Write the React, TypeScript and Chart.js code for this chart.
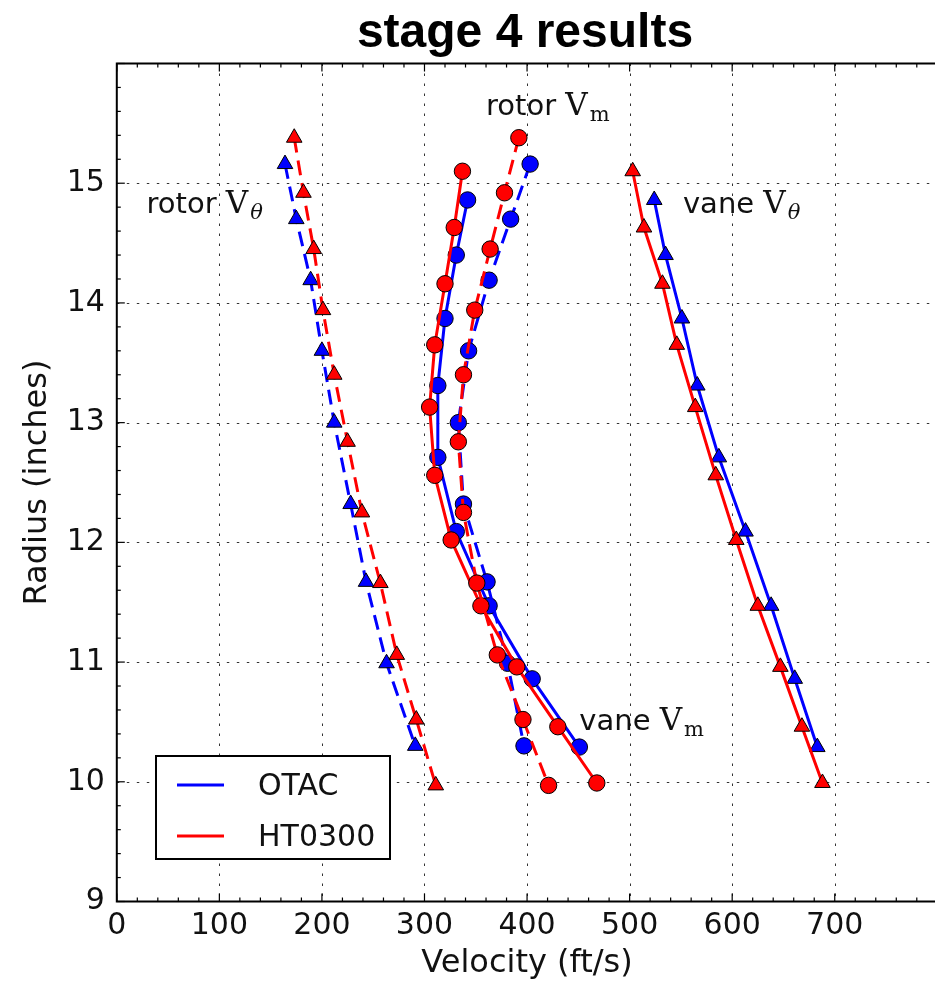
import React, { useEffect, useRef } from 'react';
import { Chart, registerables } from 'chart.js';
Chart.register(...registerables);

// OTAC rotor stations
const otacRotorRadius = [15.16, 14.7, 14.19, 13.6, 13.0, 12.32, 11.67, 10.99, 10.3];
const otacRotorVtheta = [164, 175, 189, 200, 212, 228, 243, 263, 291];
const otacRotorVm = [403, 384, 363, 343, 333, 338, 361, 381, 397];
// HT0300 rotor stations
const htRotorRadius = [15.38, 14.92, 14.45, 13.94, 13.4, 12.84, 12.25, 11.66, 11.06, 10.52, 9.97];
const htRotorVtheta = [173, 182, 192, 201, 212, 225, 239, 257, 273, 292, 311];
const htRotorVm = [392, 378, 364, 349, 338, 333, 338, 351, 371, 396, 421];
// OTAC vane stations
const otacVaneRadius = [14.86, 14.4, 13.87, 13.31, 12.71, 12.09, 11.47, 10.86, 10.29];
const otacVaneVtheta = [524, 535, 551, 566, 587, 613, 638, 661, 683];
const otacVaneVm = [342, 331, 320, 313, 313, 331, 363, 405, 451];
// HT0300 vane stations
const htVaneRadius = [15.1, 14.63, 14.16, 13.65, 13.13, 12.56, 12.02, 11.47, 10.96, 10.46, 9.99];
const htVaneVtheta = [503, 514, 532, 546, 564, 584, 604, 625, 647, 668, 688];
const htVaneVm = [337, 329, 320, 310, 305, 310, 326, 355, 390, 430, 468];

const seriesNames = ['OTAC', 'HT0300'];
const titleText = 'stage 4 results';
const xTitle = 'Velocity (ft/s)';
const yTitle = 'Radius (inches)';
const xTicks = [0, 100, 200, 300, 400, 500, 600, 700];
const yTicks = [9, 10, 11, 12, 13, 14, 15];
const X_MAX = 788; // axes run to 800; the picture is cut short of that
const Y_MIN = 9;
const Y_MAX = 16;

const BLUE = '#0000ff';
const RED = '#ff0000';

const pts = (xs: number[], ys: number[]) => xs.map((x, i) => ({ x, y: ys[i] }));

function makeSet(label: string, xs: number[], ys: number[], color: string, dashed: boolean, style: string, order: number) {
  return {
    label,
    data: pts(xs, ys),
    showLine: true,
    borderColor: color,
    backgroundColor: color,
    borderWidth: 3,
    borderDash: dashed ? [15, 8] : [],
    pointStyle: style,
    pointRadius: style === 'triangle' ? 9 : 8.2,
    pointBorderColor: '#000',
    pointBorderWidth: 1,
    pointBackgroundColor: color,
    order,
    tension: 0,
  };
}

const FONT = '"DejaVu Sans", sans-serif';

const decor = {
  id: 'decor',
  beforeDatasetsDraw(chart: any) {
    const { ctx, chartArea: a, scales } = chart;
    const xs = scales.x, ys = scales.y;
    const W = chart.width;
    ctx.save();
    ctx.strokeStyle = '#333';
    ctx.lineWidth = 1;
    ctx.setLineDash([2.5, 7.5]);
    for (let v = 100; v <= 700; v += 100) {
      const px = Math.round(xs.getPixelForValue(v)) + 0.5;
      ctx.beginPath(); ctx.moveTo(px, a.top); ctx.lineTo(px, a.bottom); ctx.stroke();
    }
    for (let v = 10; v <= 15; v += 1) {
      const py = Math.round(ys.getPixelForValue(v)) + 0.5;
      ctx.beginPath(); ctx.moveTo(a.left, py); ctx.lineTo(W, py); ctx.stroke();
    }
    ctx.restore();
  },
  afterDraw(chart: any) {
    const { ctx, chartArea: a, scales } = chart;
    const xs = scales.x, ys = scales.y;
    const W = chart.width;
    ctx.save();
    // spines (the right one lies outside the picture)
    ctx.strokeStyle = '#000';
    ctx.lineWidth = 2;
    ctx.setLineDash([]);
    ctx.beginPath();
    ctx.moveTo(W, a.top); ctx.lineTo(a.left, a.top); ctx.lineTo(a.left, a.bottom); ctx.lineTo(W, a.bottom);
    ctx.stroke();
    // ticks (inward)
    ctx.lineWidth = 1.2;
    for (let v = 0; v <= 800; v += 20) {
      const px = xs.getPixelForValue(v);
      if (px > W) break;
      const len = v % 100 === 0 ? 8 : 4;
      ctx.beginPath();
      ctx.moveTo(px, a.bottom); ctx.lineTo(px, a.bottom - len);
      ctx.moveTo(px, a.top); ctx.lineTo(px, a.top + len);
      ctx.stroke();
    }
    for (let i = 0; i <= 35; i++) {
      const v = Y_MIN + i * 0.2;
      const py = ys.getPixelForValue(v);
      const len = i % 5 === 0 ? 8 : 4;
      ctx.beginPath();
      ctx.moveTo(a.left, py); ctx.lineTo(a.left + len, py);
      ctx.stroke();
    }
    // title
    ctx.fillStyle = '#000';
    ctx.font = 'bold 48px "Liberation Sans", Arial, sans-serif';
    ctx.textAlign = 'center';
    ctx.textBaseline = 'alphabetic';
    ctx.fillText(titleText, 525, 46.5);

    // x axis title, centred on the full 0-800 axis
    ctx.fillStyle = '#111';
    ctx.font = '32px ' + FONT;
    ctx.fillText(xTitle, xs.getPixelForValue(400), 972);

    // annotations
    const label = (pre: string, sub: string, subItalic: boolean, vx: number, vy: number) => {
      let x = xs.getPixelForValue(vx);
      const y = ys.getPixelForValue(vy);
      ctx.textAlign = 'left';
      ctx.fillStyle = '#111';
      ctx.font = '29px ' + FONT;
      ctx.fillText(pre, x, y);
      x += ctx.measureText(pre).width;
      ctx.font = '31px "DejaVu Serif", serif';
      ctx.fillText('V', x, y);
      x += ctx.measureText('V').width + 2;
      ctx.font = (subItalic ? 'italic ' : '') + '21px "DejaVu Serif", serif';
      ctx.fillText(sub, x, y + 6);
    };
    label('rotor ', 'θ', true, 29, 14.75);
    label('rotor ', 'm', false, 360, 15.57);
    label('vane ', 'θ', true, 552, 14.75);
    label('vane ', 'm', false, 451, 10.43);

    // legend
    ctx.fillStyle = '#fff';
    ctx.fillRect(156, 756, 234, 103);
    ctx.strokeStyle = '#000';
    ctx.lineWidth = 2;
    ctx.strokeRect(156, 756, 234, 103);
    ctx.lineWidth = 3;
    ctx.strokeStyle = BLUE;
    ctx.beginPath(); ctx.moveTo(177, 785); ctx.lineTo(224, 785); ctx.stroke();
    ctx.strokeStyle = RED;
    ctx.beginPath(); ctx.moveTo(177, 836); ctx.lineTo(224, 836); ctx.stroke();
    ctx.fillStyle = '#111';
    ctx.font = '30px ' + FONT;
    ctx.textAlign = 'left';
    ctx.fillText(seriesNames[0], 258, 795);
    ctx.fillText(seriesNames[1], 258, 846);
    ctx.restore();
  },
};

export default function App() {
  const ref = useRef<HTMLCanvasElement | null>(null);
  useEffect(() => {
    if (!ref.current) return;
    const chart = new Chart(ref.current, {
      type: 'scatter',
      data: {
        datasets: [
          makeSet('HT0300 rotor Vtheta', htRotorVtheta, htRotorRadius, RED, true, 'triangle', 0),
          makeSet('HT0300 rotor Vm', htRotorVm, htRotorRadius, RED, true, 'circle', 0),
          makeSet('HT0300 vane Vtheta', htVaneVtheta, htVaneRadius, RED, false, 'triangle', 0),
          makeSet('HT0300 vane Vm', htVaneVm, htVaneRadius, RED, false, 'circle', 0),
          makeSet('OTAC rotor Vtheta', otacRotorVtheta, otacRotorRadius, BLUE, true, 'triangle', 1),
          makeSet('OTAC rotor Vm', otacRotorVm, otacRotorRadius, BLUE, true, 'circle', 1),
          makeSet('OTAC vane Vtheta', otacVaneVtheta, otacVaneRadius, BLUE, false, 'triangle', 1),
          makeSet('OTAC vane Vm', otacVaneVm, otacVaneRadius, BLUE, false, 'circle', 1),
        ] as any,
      },
      options: {
        responsive: false,
        animation: false,
        layout: { padding: { top: 63.5, right: 0, left: 0, bottom: 0 } },
        plugins: { legend: { display: false }, title: { display: false }, tooltip: { enabled: false } },
        scales: {
          x: {
            type: 'linear',
            min: 0,
            max: X_MAX,
            grid: { display: false, drawTicks: false },
            border: { display: false },
            afterBuildTicks: (s: any) => { s.ticks = xTicks.map((v) => ({ value: v })); },
            ticks: {
              color: '#111',
              font: { family: 'DejaVu Sans', size: 30 },
              padding: 7,
              maxRotation: 0,
              autoSkip: false,
            },
            title: { display: false },
            afterFit: (s: any) => { s.height = 80.5; s.paddingLeft = 0; s.paddingRight = 0; },
          },
          y: {
            type: 'linear',
            min: Y_MIN,
            max: Y_MAX,
            grid: { display: false, drawTicks: false },
            border: { display: false },
            afterBuildTicks: (s: any) => { s.ticks = yTicks.map((v) => ({ value: v })); },
            ticks: {
              color: '#111',
              font: { family: 'DejaVu Sans', size: 30 },
              padding: 12,
              autoSkip: false,
            },
            title: { display: true, text: yTitle, color: '#111', font: { family: 'DejaVu Sans', size: 32 }, padding: { top: 18, bottom: 0 } },
            afterFit: (s: any) => { s.width = 116.8; s.paddingTop = 0; s.paddingBottom = 0; },
          },
        },
      },
      plugins: [decor],
    } as any);
    return () => chart.destroy();
  }, []);
  return (
    <div style={{ position: 'fixed', left: 0, top: 0, width: 935, height: 982, overflow: 'hidden', background: '#fff' }}>
      <canvas ref={ref} width={935} height={982} style={{ width: 935, height: 982, display: 'block' }} />
    </div>
  );
}
